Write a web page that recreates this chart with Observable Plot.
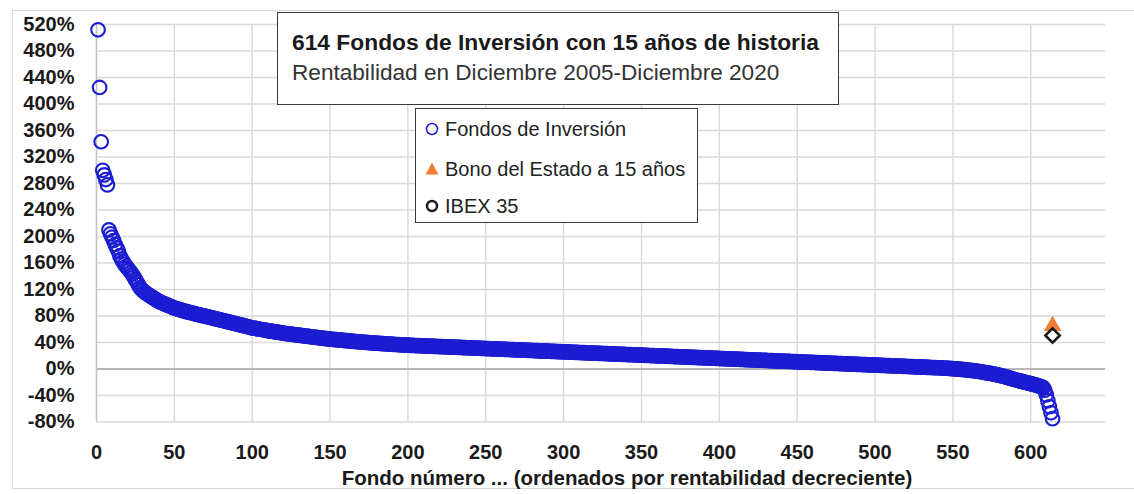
<!DOCTYPE html>
<html>
<head>
<meta charset="utf-8">
<script src="https://cdn.jsdelivr.net/npm/d3@7"></script>
<script src="https://cdn.jsdelivr.net/npm/@observablehq/plot@0.6"></script>
<style>
  html, body { margin: 0; padding: 0; background: #fff; }
  #chart { position: relative; width: 1134px; height: 494px; font-family: "Liberation Sans", Arial, sans-serif; }
  #frame { position: absolute; left: 12px; top: 10px; width: 1140px; height: 479px;
           border: 1px solid #d6d6d6; box-sizing: border-box; }
  #titlebox { position: absolute; left: 277px; top: 12px; width: 562px; height: 93px;
              border: 1.5px solid #3a3a3a; background: #fff; box-sizing: border-box; }
  #titlebox .t1 { position: absolute; left: 14px; top: 16px; font-size: 22.8px; font-weight: bold; color: #1a1a1a; white-space: nowrap; }
  #titlebox .t2 { position: absolute; left: 14px; top: 47px; font-size: 22.6px; color: #333; white-space: nowrap; }
  #legend { position: absolute; left: 415px; top: 108px; width: 283px; height: 115px;
            border: 1.5px solid #3a3a3a; background: #fff; box-sizing: border-box; }
  #legend .item { position: absolute; left: 6px; height: 24px; display: flex; align-items: center;
                  font-size: 20px; color: #222; white-space: nowrap; }
  #legend svg { margin-right: 3px; }
  #xlabel { position: absolute; left: 627px; top: 466px; transform: translateX(-50%);
            font-size: 20.5px; font-weight: bold; color: #1a1a1a; white-space: nowrap; }
</style>
</head>
<body>
<div id="chart">
  <div id="frame"></div>
</div>
<script>
// Return of each fund over 2005-2020 (%), sorted from best to worst (rank 1..614)
const fundReturns = [
  512, 425, 343, 300, 293, 286, 278, 210, 204, 199,
  194, 188, 183, 178, 171, 166, 162, 158, 155, 152,
  149, 146, 143, 139, 135, 131, 127, 123, 120, 118,
  116, 114, 112.5, 111, 109.5, 108, 106.5, 105, 103.5, 102,
  101, 100, 99, 98, 97, 96, 95, 94, 93, 92,
  91.3, 90.6, 89.9, 89.2, 88.5, 87.8, 87.1, 86.5, 85.9, 85.3,
  84.7, 84.1, 83.5, 82.9, 82.3, 81.7, 81.1, 80.6, 80.1, 79.6,
  79.1, 78.5, 77.9, 77.3, 76.7, 76.1, 75.5, 75.0, 74.4, 73.8,
  73.2, 72.6, 72.0, 71.5, 70.9, 70.3, 69.7, 69.1, 68.6, 68.0,
  67.4, 66.8, 66.2, 65.7, 65.1, 64.5, 63.9, 63.3, 62.6, 62.0,
  61.6, 61.2, 60.8, 60.4, 60.0, 59.6, 59.2, 58.8, 58.4, 58.0,
  57.6, 57.2, 56.8, 56.4, 56.0, 55.6, 55.2, 54.8, 54.4, 54.0,
  53.7, 53.4, 53.1, 52.8, 52.5, 52.2, 51.9, 51.6, 51.3, 51.0,
  50.7, 50.4, 50.1, 49.8, 49.5, 49.2, 48.9, 48.6, 48.3, 48.0,
  47.7, 47.4, 47.1, 46.8, 46.5, 46.3, 46.0, 45.7, 45.4, 45.1,
  44.9, 44.7, 44.4, 44.2, 44.0, 43.8, 43.5, 43.3, 43.1, 42.9,
  42.7, 42.4, 42.2, 42.0, 41.8, 41.5, 41.3, 41.1, 40.9, 40.7,
  40.6, 40.4, 40.2, 40.0, 39.8, 39.6, 39.4, 39.3, 39.1, 38.9,
  38.8, 38.6, 38.4, 38.3, 38.1, 37.9, 37.8, 37.6, 37.5, 37.3,
  37.2, 37.0, 36.9, 36.7, 36.6, 36.4, 36.3, 36.2, 36.0, 35.9,
  35.8, 35.7, 35.6, 35.5, 35.4, 35.3, 35.2, 35.1, 35.0, 34.9,
  34.8, 34.7, 34.6, 34.5, 34.4, 34.3, 34.2, 34.1, 34.0, 33.9,
  33.8, 33.7, 33.6, 33.5, 33.4, 33.3, 33.2, 33.1, 33.0, 32.9,
  32.8, 32.7, 32.6, 32.5, 32.4, 32.3, 32.2, 32.1, 32.0, 31.9,
  31.8, 31.7, 31.6, 31.5, 31.4, 31.3, 31.2, 31.1, 31.0, 30.9,
  30.8, 30.7, 30.6, 30.5, 30.4, 30.3, 30.2, 30.1, 30.0, 29.9,
  29.8, 29.7, 29.6, 29.5, 29.4, 29.3, 29.2, 29.1, 29.0, 28.9,
  28.8, 28.7, 28.6, 28.5, 28.4, 28.3, 28.2, 28.1, 28.0, 27.9,
  27.8, 27.7, 27.6, 27.5, 27.4, 27.3, 27.2, 27.1, 27.0, 26.9,
  26.8, 26.7, 26.6, 26.5, 26.4, 26.3, 26.2, 26.1, 26.0, 25.9,
  25.8, 25.7, 25.6, 25.5, 25.4, 25.3, 25.2, 25.1, 25.0, 24.9,
  24.8, 24.7, 24.6, 24.5, 24.4, 24.3, 24.2, 24.1, 24.0, 23.9,
  23.8, 23.7, 23.6, 23.5, 23.4, 23.3, 23.2, 23.1, 23.0, 22.9,
  22.8, 22.7, 22.6, 22.5, 22.4, 22.3, 22.2, 22.1, 22.0, 21.9,
  21.8, 21.7, 21.6, 21.5, 21.4, 21.3, 21.2, 21.1, 21.0, 20.9,
  20.8, 20.7, 20.6, 20.5, 20.4, 20.3, 20.2, 20.1, 20.0, 19.9,
  19.8, 19.7, 19.6, 19.5, 19.4, 19.3, 19.2, 19.1, 19.0, 18.9,
  18.8, 18.7, 18.6, 18.5, 18.4, 18.3, 18.2, 18.1, 18.0, 17.9,
  17.8, 17.7, 17.6, 17.5, 17.4, 17.3, 17.2, 17.1, 17.0, 16.9,
  16.8, 16.7, 16.6, 16.5, 16.4, 16.3, 16.2, 16.1, 16.0, 15.9,
  15.8, 15.7, 15.6, 15.5, 15.4, 15.3, 15.2, 15.1, 15.0, 14.9,
  14.8, 14.7, 14.6, 14.5, 14.4, 14.3, 14.2, 14.1, 14.0, 13.9,
  13.8, 13.7, 13.6, 13.5, 13.4, 13.3, 13.2, 13.1, 13.0, 12.9,
  12.8, 12.7, 12.6, 12.5, 12.4, 12.3, 12.2, 12.1, 12.0, 11.9,
  11.8, 11.7, 11.6, 11.5, 11.4, 11.3, 11.2, 11.1, 11.0, 10.9,
  10.8, 10.7, 10.6, 10.5, 10.4, 10.3, 10.2, 10.1, 10.0, 9.9,
  9.8, 9.7, 9.6, 9.5, 9.4, 9.3, 9.2, 9.1, 9.0, 8.9,
  8.8, 8.7, 8.6, 8.5, 8.4, 8.3, 8.2, 8.1, 8.0, 7.9,
  7.8, 7.7, 7.6, 7.5, 7.4, 7.3, 7.2, 7.1, 7.0, 6.9,
  6.8, 6.7, 6.6, 6.5, 6.4, 6.3, 6.2, 6.1, 6.0, 5.9,
  5.8, 5.7, 5.6, 5.5, 5.4, 5.3, 5.2, 5.1, 5.0, 4.9,
  4.8, 4.7, 4.6, 4.5, 4.4, 4.3, 4.2, 4.1, 4.0, 3.9,
  3.8, 3.7, 3.6, 3.5, 3.4, 3.3, 3.2, 3.1, 3.0, 2.9,
  2.8, 2.7, 2.6, 2.5, 2.4, 2.3, 2.2, 2.1, 2.0, 1.9,
  1.8, 1.7, 1.5, 1.4, 1.2, 1.1, 0.9, 0.8, 0.6, 0.5,
  0.3, 0.1, -0.1, -0.3, -0.5, -0.7, -0.9, -1.1, -1.4, -1.7,
  -2.0, -2.3, -2.6, -2.9, -3.2, -3.5, -3.8, -4.2, -4.6, -5.0,
  -5.4, -5.8, -6.2, -6.6, -7.0, -7.5, -8.0, -8.5, -9.0, -9.6,
  -10.2, -10.8, -11.4, -12.0, -12.7, -13.4, -14.1, -14.8, -15.5, -16.2,
  -16.8, -17.4, -18.0, -18.6, -19.2, -19.8, -20.4, -21.0, -21.6, -22.2,
  -22.8, -23.4, -24.0, -24.7, -25.4, -26.2, -27.0, -28.0,
  -32, -39, -48, -57, -66, -75
];

// Benchmarks over the same period (%), shown after the last fund
const benchmarkRank = [614];
const bondReturn = [65];
const ibexReturn = [50.5];

const xTicks = [0, 50, 100, 150, 200, 250, 300, 350, 400, 450, 500, 550, 600];
const yTicks = [-80, -40, 0, 40, 80, 120, 160, 200, 240, 280, 320, 360, 400, 440, 480, 520];

const titleText = "614 Fondos de Inversión con 15 años de historia";
const subtitleText = "Rentabilidad en Diciembre 2005-Diciembre 2020";
const xLabelText = "Fondo número ... (ordenados por rentabilidad decreciente)";
const legendLabels = ["Fondos de Inversión", "Bono del Estado a 15 años", "IBEX 35"];

const fundColor = "#1c1cd2";
const bondColor = "#ed7d31";
const ibexColor = "#1a1a1a";

const funds = fundReturns.map((v, i) => ({rank: i + 1, ret: v}));
const bond = benchmarkRank.map((r, i) => ({rank: r, ret: bondReturn[i]}));
const ibex = benchmarkRank.map((r, i) => ({rank: r, ret: ibexReturn[i]}));

const chart = Plot.plot({
  width: 1134,
  height: 494,
  marginLeft: 96,
  marginRight: 29,
  marginTop: 24,
  marginBottom: 72.5,
  style: {
    fontFamily: '"Liberation Sans", Arial, sans-serif',
    fontSize: "20px",
    fontWeight: "bold",
    color: "#1a1a1a",
    background: "transparent"
  },
  x: {domain: [0, 648]},
  y: {domain: [-80, 520]},
  marks: [
    Plot.gridY(yTicks, {stroke: "#d9d9d9", strokeOpacity: 1, strokeWidth: 1.4}),
    Plot.gridX(xTicks, {stroke: "#d9d9d9", strokeOpacity: 1, strokeWidth: 1.4}),
    Plot.ruleY([0], {stroke: "#a8a8a8", strokeWidth: 1.4}),
    Plot.ruleX([0], {stroke: "#c4c4c4", strokeWidth: 1.4}),
    Plot.axisY(yTicks, {tickSize: 0, tickPadding: 22, tickFormat: d => d + "%", label: null}),
    Plot.axisX(xTicks, {tickSize: 0, tickPadding: 23, label: null}),
    Plot.dot(funds, {x: "rank", y: "ret", r: 6.8, stroke: fundColor, strokeWidth: 2.1, fill: "none"}),
    Plot.dot(bond, {x: "rank", y: "ret", symbol: "triangle", r: 6.5, fill: bondColor, stroke: "none"}),
    Plot.dot(ibex, {x: "rank", y: "ret", symbol: "diamond2", r: 6.5, stroke: ibexColor, strokeWidth: 2.6, fill: "none"})
  ]
});

const root = document.getElementById("chart");
chart.style.position = "absolute";
chart.style.left = "0";
chart.style.top = "0";
root.appendChild(chart);

// Title box
const tb = document.createElement("div");
tb.id = "titlebox";
tb.innerHTML = `<div class="t1"></div><div class="t2"></div>`;
tb.querySelector(".t1").textContent = titleText;
tb.querySelector(".t2").textContent = subtitleText;
root.appendChild(tb);

// Legend box
const lg = document.createElement("div");
lg.id = "legend";
const legendMarkers = [
  `<svg width="20" height="20"><circle cx="10" cy="10" r="5.5" fill="none" stroke="${fundColor}" stroke-width="1.5"/></svg>`,
  `<svg width="20" height="20"><path d="M10 3.5 L16.5 15.5 L3.5 15.5 Z" fill="${bondColor}"/></svg>`,
  `<svg width="20" height="20"><circle cx="10" cy="10" r="5" fill="none" stroke="${ibexColor}" stroke-width="2.5"/></svg>`
];
const rowTops = [8, 48, 85];
legendLabels.forEach((label, i) => {
  const it = document.createElement("div");
  it.className = "item";
  it.style.top = rowTops[i] + "px";
  it.innerHTML = legendMarkers[i];
  const span = document.createElement("span");
  span.textContent = label;
  it.appendChild(span);
  lg.appendChild(it);
});
root.appendChild(lg);

// Horizontal axis title
const xl = document.createElement("div");
xl.id = "xlabel";
xl.textContent = xLabelText;
root.appendChild(xl);
</script>
</body>
</html>
